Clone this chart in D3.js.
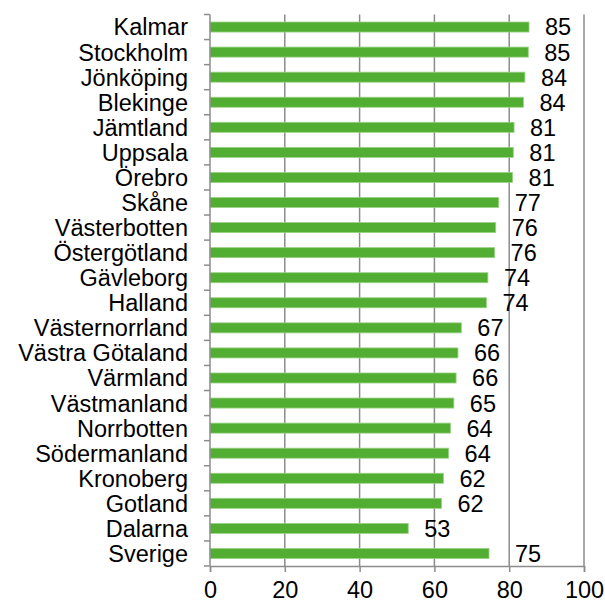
<!DOCTYPE html>
<html>
<head>
<meta charset="utf-8">
<script src="https://cdn.jsdelivr.net/npm/d3@7"></script>
<style>
  html, body { margin: 0; padding: 0; background: #fff; }
  svg { display: block; }
</style>
</head>
<body>
<div id="chart"></div>
<script>
// regions, top to bottom, with values
const regions = [
    'Kalmar', 'Stockholm', 'Jönköping', 'Blekinge', 'Jämtland', 'Uppsala',
    'Örebro', 'Skåne', 'Västerbotten', 'Östergötland', 'Gävleborg', 'Halland',
    'Västernorrland', 'Västra Götaland', 'Värmland', 'Västmanland', 'Norrbotten',
    'Södermanland', 'Kronoberg', 'Gotland', 'Dalarna', 'Sverige'
]
const values = [
    85.3, 85.1, 84.2, 83.8, 81.3, 81.1,
    80.9, 77.2, 76.4, 76.1, 74.3, 73.9,
    67.2, 66.3, 65.8, 65.2, 64.3,
    63.8, 62.4, 61.9, 53.0, 74.6
]
const labels = [85, 85, 84, 84, 81, 81, 81, 77, 76, 76, 74, 74, 67, 66, 66, 65, 64, 64, 62, 62, 53, 75]
const xTicks = [0, 20, 40, 60, 80, 100]

const width = 605
const height = 603
const margin = { top: 14.5, right: 21, bottom: 37, left: 210 }
const font = '"Liberation Sans", Arial, sans-serif'
const fontSize = 23.5
const gray = '#8c8c8c'

const svg = d3.select('#chart').append('svg')
    .attr('width', width)
    .attr('height', height)

const x = d3.scaleLinear()
    .domain([0, 100])
    .range([margin.left, width - margin.right])

const y = d3.scaleBand()
    .domain(regions)
    .range([margin.top, height - margin.bottom])
    .paddingInner(0.6)
    .paddingOuter(0.3)

const band = y.step()

// vertical grid lines
svg.append('g')
    .selectAll('line')
    .data(xTicks.slice(1))
    .join('line')
    .attr('x1', d => x(d))
    .attr('x2', d => x(d))
    .attr('y1', margin.top)
    .attr('y2', height - margin.bottom)
    .attr('stroke', gray)
    .attr('stroke-width', 1.5)

// bars
svg.append('g')
    .selectAll('rect')
    .data(regions)
    .join('rect')
    .attr('x', x(0))
    .attr('y', d => y(d))
    .attr('width', (d, i) => x(values[i]) - x(0))
    .attr('height', y.bandwidth())
    .attr('fill', '#52ae32')
    .attr('stroke', '#9ad283')
    .attr('stroke-width', 0.8)

// value labels
svg.append('g')
    .selectAll('text')
    .data(regions)
    .join('text')
    .attr('x', (d, i) => x(values[i]) + (i === regions.length - 1 ? 26 : 16))
    .attr('y', d => y(d) + y.bandwidth() / 2)
    .attr('dy', '0.36em')
    .attr('font-family', font)
    .attr('font-size', fontSize)
    .attr('fill', '#000')
    .text((d, i) => labels[i])

// left axis
const yAxis = svg.append('g')
yAxis.append('line')
    .attr('x1', x(0)).attr('x2', x(0))
    .attr('y1', margin.top).attr('y2', height - margin.bottom)
    .attr('stroke', gray).attr('stroke-width', 1.5)
yAxis.selectAll('line.tick')
    .data(d3.range(regions.length + 1))
    .join('line')
    .attr('class', 'tick')
    .attr('x1', x(0) - 6).attr('x2', x(0))
    .attr('y1', i => margin.top + i * band)
    .attr('y2', i => margin.top + i * band)
    .attr('stroke', gray).attr('stroke-width', 1.5)
yAxis.selectAll('text')
    .data(regions)
    .join('text')
    .attr('x', x(0) - 22)
    .attr('y', d => y(d) + y.bandwidth() / 2)
    .attr('dy', '0.36em')
    .attr('text-anchor', 'end')
    .attr('font-family', font)
    .attr('font-size', fontSize)
    .attr('fill', '#000')
    .text(d => d)

// bottom axis
const xAxis = svg.append('g')
    .attr('transform', `translate(0,${height - margin.bottom})`)
    .call(d3.axisBottom(x).tickValues(xTicks).tickSize(6).tickPadding(9))
xAxis.select('.domain').attr('stroke', gray).attr('stroke-width', 1.5)
xAxis.selectAll('.tick line').attr('stroke', gray).attr('stroke-width', 1.5)
xAxis.selectAll('.tick text')
    .attr('font-family', font)
    .attr('font-size', fontSize)
    .attr('fill', '#000')
</script>
</body>
</html>
